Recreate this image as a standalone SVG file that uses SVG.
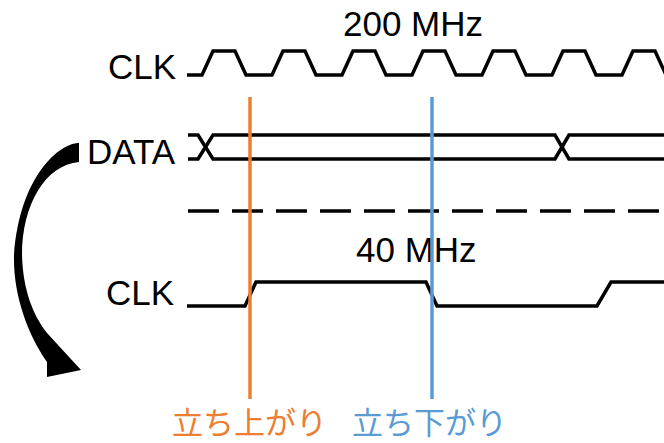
<svg xmlns="http://www.w3.org/2000/svg" width="664" height="443" viewBox="0 0 664 443">
<style>
.wave{fill:none;stroke:#000;stroke-width:3.5;stroke-linejoin:miter;stroke-linecap:butt}
.lbl{font-family:"Liberation Sans",Arial,sans-serif;font-size:35px;fill:#000}
.jp{font-family:"Noto Sans CJK JP",sans-serif;font-size:31px}
.mark{fill:none;stroke-width:3.5}
</style>
<rect width="664" height="443" fill="#fff"/>
<g id="clk200">
<text class="lbl" x="343" y="36">200 MHz</text>
<text class="lbl" x="108" y="79">CLK</text>
<path class="wave" d="M187,75 L202,75 L213,51 L235,51 L246,75 L272,75 L283,51 L305,51 L316,75 L342,75 L353,51 L375,51 L386,75 L412,75 L423,51 L445,51 L456,75 L482,75 L493,51 L515,51 L526,75 L552,75 L563,51 L585,51 L596,75 L622,75 L633,51 L655,51 L666,75"/>
</g>
<g id="data">
<text class="lbl" x="87" y="164">DATA</text>
<path class="wave" d="M188,135 L198,135 L213,159 L555,159 L569,135 L664,135"/>
<path class="wave" d="M188,159 L198,159 L213,135 L555,135 L569,159 L664,159"/>
</g>
<g id="separator">
<path class="wave" d="M188,211 L660,211" stroke-dasharray="31 13"/>
</g>
<g id="clk40">
<text class="lbl" x="356" y="262">40 MHz</text>
<text class="lbl" x="106" y="305">CLK</text>
<path class="wave" d="M187,306 L245,306 L256,282 L426,282 L437,306 L597,306 L611,282 L664,282"/>
</g>
<g id="connectors">
<path id="arrow" fill="#000" d="M79,143 C60,143 20,175 14,255 C13,295 28,335 47,362 L47,377 L81,370 L47,333 C33,315 23,290 22,255 C22,205 45,165 79,162 Z"/>
</g>
<g id="rise">
<line class="mark" x1="250" y1="97" x2="250" y2="399" stroke="#ED7D31"/>
<text class="jp" x="172" y="434" fill="#ED7D31">立ち上がり</text>
</g>
<g id="fall">
<line class="mark" x1="432" y1="97" x2="432" y2="399" stroke="#5B9BD5"/>
<text class="jp" x="352" y="434" fill="#5B9BD5">立ち下がり</text>
</g>
</svg>
